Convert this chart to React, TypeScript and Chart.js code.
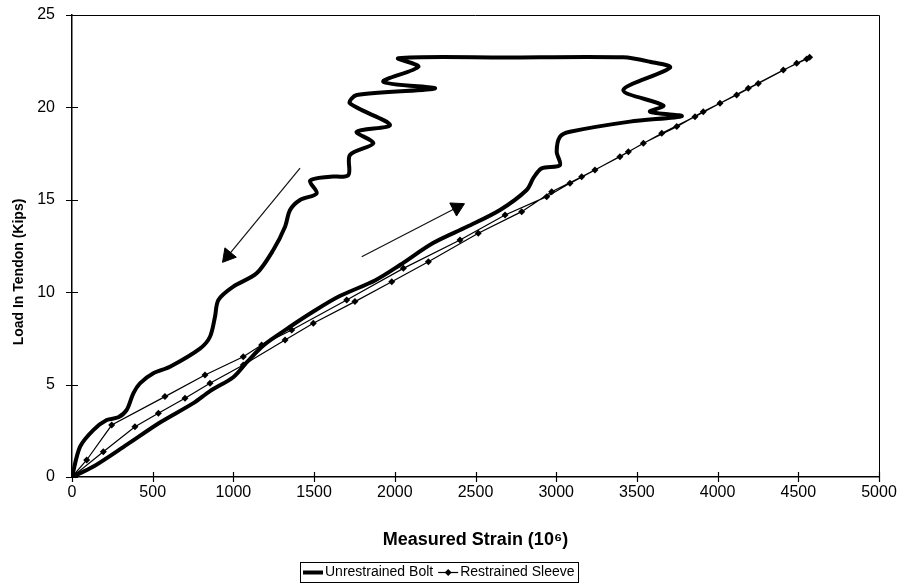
import React, { useEffect, useRef } from 'react';
import { Chart, registerables } from 'chart.js';

Chart.register(...registerables);

// ---- data (strain in 10^-6, load in kips) ----
const boltStrain = [
  0, 130, 340, 545, 752, 855, 999, 1082, 1190, 1351, 1493, 1650, 1880, 2032, 2237, 2447, 2652, 2817, 2860, 2910, 3023, 3003, 3023, 3085, 3457, 3778,
  3581, 3664, 3416, 3705, 3581, 3414, 2700, 2022,
  2146, 1929, 2249, 1764, 1722, 1970, 1764, 1867, 1722, 1712, 1599, 1475, 1516, 1413, 1351, 1320, 1247, 1144, 999, 907, 886, 855, 793, 607, 504, 421, 380, 339, 287, 215, 132, 50, 0,
];
const boltLoad = [
  0, 0.55, 1.75, 2.95, 4.0, 4.65, 5.4, 6.2, 7.15, 8.13, 8.94, 9.75, 10.65, 11.47, 12.66, 13.54, 14.45, 15.53, 16.2, 16.7, 16.88, 17.6, 18.41, 18.68, 19.23, 19.53,
  19.77, 20.1, 20.94, 22.15, 22.47, 22.71, 22.7, 22.66,
  22.2, 21.39, 21.03, 20.67, 20.22, 19.05, 18.68, 18.06, 17.42, 16.34, 16.25, 16.03, 15.35, 14.99, 14.45, 13.54, 12.28, 11.02, 10.3, 9.58, 8.67, 7.59, 6.95, 5.97, 5.61, 5.07, 4.53, 3.63, 3.23, 3.08, 2.54, 1.64, 0,
];
const sleeveStrain = [
  0, 194, 390, 535, 700, 855, 1061, 1320, 1495, 1753, 1981, 2208, 2517, 2786, 2972, 3158, 3395, 3540, 3747, 3911, 4118, 4252, 4490, 4570,
  4552, 4407, 4190, 4015, 3860, 3654, 3447, 3240, 3085, 2941, 2683, 2404, 2053, 1702, 1361, 1175, 1061, 824, 576, 246, 91, 0,
];
const sleeveLoad = [
  0, 1.37, 2.72, 3.45, 4.26, 5.07, 6.06, 7.41, 8.32, 9.49, 10.57, 11.65, 13.19, 14.36, 15.44, 16.25, 17.33, 18.06, 18.96, 19.77, 20.67, 21.3, 22.39, 22.72,
  22.62, 22.02, 21.03, 20.22, 19.5, 18.6, 17.6, 16.61, 15.89, 15.17, 14.18, 12.82, 11.29, 9.58, 7.95, 7.14, 6.51, 5.52, 4.35, 2.81, 0.92, 0,
];
const arrowDownStrain = [1413, 966];
const arrowDownLoad = [16.72, 11.97];
const arrowUpStrain = [1795, 2385];
const arrowUpLoad = [11.92, 14.58];

const xMin = 0;
const xMax = 5000;
const xStep = 500;
const yMin = 0;
const yMax = 25;
const yStep = 5;

const seriesNames = ['Unrestrained Bolt', 'Restrained Sleeve'];
const xTitle = 'Measured Strain (10\u2076)';
const yTitle = 'Load In Tendon (Kips)';

const FONT = '"Liberation Sans", Arial, sans-serif';

const zip = (xs: number[], ys: number[]) => xs.map((x, i) => ({ x, y: ys[i] }));

const arrowRotation = (c: any) => {
  const d = c.chart.data.datasets[c.datasetIndex].data as { x: number; y: number }[];
  const sx = c.chart.scales.x;
  const sy = c.chart.scales.y;
  const dx = sx.getPixelForValue(d[1].x) - sx.getPixelForValue(d[0].x);
  const dy = sy.getPixelForValue(d[1].y) - sy.getPixelForValue(d[0].y);
  return (Math.atan2(dx, -dy) * 180) / Math.PI;
};

const decorPlugin = {
  id: 'decor',
  afterDraw(chart: any) {
    const { ctx, chartArea: a, scales } = chart;
    const sx = scales.x;
    const sy = scales.y;
    ctx.save();
    ctx.strokeStyle = '#000';
    // frame (top/right)
    ctx.lineWidth = 1;
    ctx.beginPath();
    ctx.moveTo(a.left, a.top + 0.5);
    ctx.lineTo(a.right + 0.5, a.top + 0.5);
    ctx.lineTo(a.right + 0.5, a.bottom);
    ctx.stroke();
    // crossing tick marks
    ctx.lineWidth = 1.2;
    ctx.beginPath();
    sy.ticks.forEach((t: any) => {
      const py = Math.round(sy.getPixelForValue(t.value)) + 0.5;
      ctx.moveTo(a.left - 6, py);
      ctx.lineTo(a.left + 6, py);
    });
    sx.ticks.forEach((t: any) => {
      const px = Math.round(sx.getPixelForValue(t.value)) + 0.5;
      ctx.moveTo(px, a.bottom - 5);
      ctx.lineTo(px, a.bottom + 5);
    });
    ctx.stroke();

    // y title
    ctx.fillStyle = '#000';
    ctx.font = 'bold 14px ' + FONT;
    ctx.textAlign = 'center';
    ctx.textBaseline = 'middle';
    ctx.save();
    ctx.translate(19, 272);
    ctx.rotate(-Math.PI / 2);
    ctx.fillText(yTitle, 0, 0);
    ctx.restore();

    // legend
    ctx.font = '14px ' + FONT;
    ctx.textAlign = 'left';
    const w1 = ctx.measureText(seriesNames[0]).width;
    const w2 = ctx.measureText(seriesNames[1]).width;
    const sample = 20;
    const gap = 2;
    const itemGap = 5;
    const pad = 3;
    const total = pad + sample + gap + w1 + itemGap + sample + gap + w2 + pad;
    const left = Math.round(439 - total / 2);
    const top = 562;
    const h = 20;
    ctx.lineWidth = 1;
    ctx.strokeRect(left + 0.5, top + 0.5, Math.round(total), h);
    const my = top + h / 2 + 0.5;
    let xx = left + pad;
    ctx.lineWidth = 4;
    ctx.beginPath();
    ctx.moveTo(xx, my);
    ctx.lineTo(xx + sample, my);
    ctx.stroke();
    xx += sample + gap;
    ctx.fillText(seriesNames[0], xx, my);
    xx += w1 + itemGap;
    ctx.lineWidth = 1.2;
    ctx.beginPath();
    ctx.moveTo(xx, my);
    ctx.lineTo(xx + sample, my);
    ctx.stroke();
    const dcx = xx + sample / 2;
    ctx.beginPath();
    ctx.moveTo(dcx, my - 3.5);
    ctx.lineTo(dcx + 3.5, my);
    ctx.lineTo(dcx, my + 3.5);
    ctx.lineTo(dcx - 3.5, my);
    ctx.closePath();
    ctx.fill();
    xx += sample + gap;
    ctx.fillText(seriesNames[1], xx, my);
    ctx.restore();
  },
};

export default function App() {
  const ref = useRef<HTMLCanvasElement | null>(null);

  useEffect(() => {
    if (!ref.current) return;
    const chart = new Chart(ref.current, {
      type: 'line',
      data: {
        datasets: [
          {
            label: seriesNames[0],
            data: zip(boltStrain, boltLoad),
            borderColor: '#000',
            borderWidth: 4,
            tension: 0.3,
            pointRadius: 0,
            borderJoinStyle: 'round',
            borderCapStyle: 'round',
            fill: false,
          },
          {
            label: seriesNames[1],
            data: zip(sleeveStrain, sleeveLoad),
            borderColor: '#000',
            borderWidth: 1.2,
            tension: 0,
            pointStyle: 'rectRot',
            pointRadius: 3.5,
            pointBackgroundColor: '#000',
            pointBorderColor: '#000',
            pointBorderWidth: 0,
            fill: false,
          },
          {
            label: 'arrow-unloading',
            data: zip(arrowDownStrain, arrowDownLoad),
            borderColor: '#111',
            borderWidth: 1.2,
            tension: 0,
            pointStyle: 'triangle',
            pointRadius: [0, 8.5],
            pointRotation: arrowRotation,
            pointBackgroundColor: '#000',
            pointBorderColor: '#000',
            pointBorderWidth: 1,
            fill: false,
          },
          {
            label: 'arrow-loading',
            data: zip(arrowUpStrain, arrowUpLoad),
            borderColor: '#111',
            borderWidth: 1.2,
            tension: 0,
            pointStyle: 'triangle',
            pointRadius: [0, 8.5],
            pointRotation: arrowRotation,
            pointBackgroundColor: '#000',
            pointBorderColor: '#000',
            pointBorderWidth: 1,
            fill: false,
          },
        ] as any,
      },
      options: {
        animation: false,
        responsive: false,
        devicePixelRatio: 1,
        events: [],
        layout: { padding: { top: 15, right: 26, left: 0, bottom: 0 } },
        plugins: {
          legend: { display: false },
          tooltip: { enabled: false },
        },
        scales: {
          x: {
            type: 'linear',
            min: xMin,
            max: xMax,
            afterFit: (s: any) => {
              s.height = 111;
              s.paddingLeft = 0;
              s.paddingRight = 0;
            },
            ticks: {
              stepSize: xStep,
              padding: 6,
              color: '#000',
              font: { family: FONT, size: 16 },
              maxRotation: 0,
              autoSkip: false,
              callback: (v: any) => String(v),
            },
            grid: { display: false, drawTicks: false },
            border: { display: true, color: '#000', width: 1.5 },
            title: {
              display: true,
              text: xTitle,
              color: '#000',
              font: { family: FONT, size: 18, weight: 'bold' },
              padding: { top: 0, bottom: 37 },
            },
          },
          y: {
            type: 'linear',
            min: yMin,
            max: yMax,
            afterFit: (s: any) => {
              s.width = 72;
              s.paddingTop = 0;
              s.paddingBottom = 0;
            },
            ticks: {
              stepSize: yStep,
              padding: 17,
              color: '#000',
              font: { family: FONT, size: 16 },
              callback: (v: any) => String(v),
            },
            grid: { display: false, drawTicks: false },
            border: { display: true, color: '#000', width: 1.5 },
          },
        },
      } as any,
      plugins: [decorPlugin],
    });
    return () => chart.destroy();
  }, []);

  return (
    <div style={{ position: 'fixed', left: 0, top: 0, width: 905, height: 588, background: '#fff' }}>
      <canvas ref={ref} width={905} height={588} style={{ width: 905, height: 588, display: 'block' }} />
    </div>
  );
}
